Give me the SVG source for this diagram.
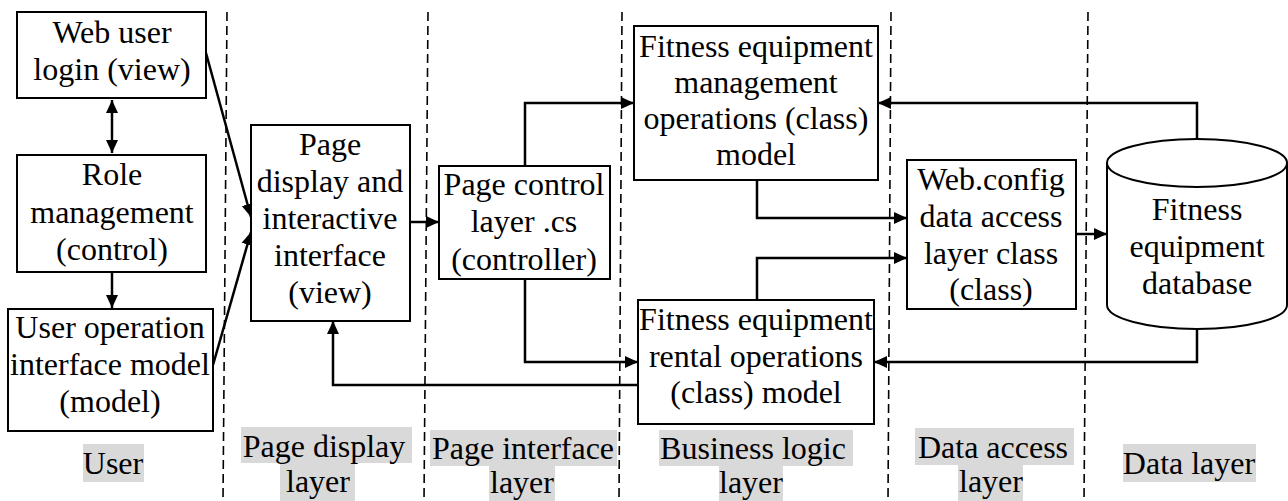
<svg xmlns="http://www.w3.org/2000/svg" width="1288" height="501" viewBox="0 0 1288 501">
<style>
.box{fill:#fff;stroke:#000;stroke-width:2}
.t{font-family:'Liberation Serif','Times New Roman',serif;font-size:32px;fill:#000;text-anchor:middle}
.c{fill:none;stroke:#000;stroke-width:2.5}
.d{fill:none;stroke:#000;stroke-width:1.6;stroke-dasharray:9,5}
.bg{fill:#d9d9d9}
</style>
<defs>
<marker id="ah" markerWidth="14" markerHeight="14" refX="13" refY="7" orient="auto-start-reverse" markerUnits="userSpaceOnUse">
<path d="M0,1 L13,7 L0,13 Z" fill="#000"/>
</marker>
</defs>
<rect width="1288" height="501" fill="#fff"/>
<g id="dividers">
<line class="d" x1="227" y1="12" x2="223" y2="501"/>
<line class="d" x1="428" y1="12" x2="424" y2="501"/>
<line class="d" x1="622" y1="12" x2="619" y2="501"/>
<line class="d" x1="891" y1="12" x2="888" y2="501"/>
<line class="d" x1="1088" y1="12" x2="1084" y2="501"/>
</g>
<g id="layer-labels">
<rect class="bg" x="83" y="444" width="61" height="38"/>
<text class="t" x="113" y="474">User</text>
<rect class="bg" x="241" y="427" width="171" height="36"/>
<rect class="bg" x="280" y="463" width="75" height="38"/>
<text class="t" x="324" y="457">Page display</text>
<text class="t" x="318" y="492">layer</text>
<rect class="bg" x="430" y="430" width="187" height="36"/>
<rect class="bg" x="489" y="466" width="66" height="35"/>
<text class="t" x="523" y="459">Page interface</text>
<text class="t" x="522" y="493">layer</text>
<rect class="bg" x="659" y="430" width="194" height="36"/>
<rect class="bg" x="719" y="466" width="64" height="35"/>
<text class="t" x="753" y="459">Business logic</text>
<text class="t" x="751" y="493">layer</text>
<rect class="bg" x="915" y="428" width="159" height="37"/>
<rect class="bg" x="958" y="465" width="65" height="36"/>
<text class="t" x="993" y="458">Data access</text>
<text class="t" x="991" y="492">layer</text>
<rect class="bg" x="1123" y="444" width="133" height="38"/>
<text class="t" x="1189" y="474">Data layer</text>
</g>
<g id="connectors">
<line class="c" x1="112" y1="100" x2="112" y2="153" marker-start="url(#ah)" marker-end="url(#ah)"/>
<line class="c" x1="112" y1="272" x2="112" y2="308" marker-end="url(#ah)"/>
<line class="c" x1="206" y1="53" x2="251" y2="217" marker-end="url(#ah)"/>
<line class="c" x1="213" y1="365" x2="251" y2="232" marker-end="url(#ah)"/>
<line class="c" x1="410" y1="222" x2="439" y2="222" marker-end="url(#ah)"/>
<polyline class="c" points="525,166 525,103 634,103" marker-end="url(#ah)"/>
<polyline class="c" points="525,279 525,362 638,362" marker-end="url(#ah)"/>
<polyline class="c" points="638,385 333,385 333,321" marker-end="url(#ah)"/>
<polyline class="c" points="757,180 757,218 907,218" marker-end="url(#ah)"/>
<polyline class="c" points="757,300 757,258 907,258" marker-end="url(#ah)"/>
<line class="c" x1="1076" y1="234" x2="1107" y2="234" marker-end="url(#ah)"/>
<polyline class="c" points="1197,139 1197,103 878,103" marker-end="url(#ah)"/>
<polyline class="c" points="1197,329 1197,362 874,362" marker-end="url(#ah)"/>
</g>
<g id="web-login">
<rect class="box" x="17" y="12" width="189" height="86"/>
<text class="t" x="112" y="43">Web user</text>
<text class="t" x="112" y="80">login (view)</text>
</g>
<g id="role-management">
<rect class="box" x="17" y="155" width="189" height="117"/>
<text class="t" x="112" y="185">Role</text>
<text class="t" x="112" y="223">management</text>
<text class="t" x="112" y="260">(control)</text>
</g>
<g id="user-operation">
<rect class="box" x="8" y="309" width="205" height="122"/>
<text class="t" x="110" y="338">User operation</text>
<text class="t" x="110" y="375">interface model</text>
<text class="t" x="110" y="412">(model)</text>
</g>
<g id="page-display">
<rect class="box" x="251" y="125" width="159" height="196"/>
<text class="t" x="330" y="155">Page</text>
<text class="t" x="330" y="192">display and</text>
<text class="t" x="330" y="229">interactive</text>
<text class="t" x="330" y="266">interface</text>
<text class="t" x="330" y="303">(view)</text>
</g>
<g id="page-control">
<rect class="box" x="439" y="166" width="171" height="113"/>
<text class="t" x="524" y="195">Page control</text>
<text class="t" x="524" y="232">layer .cs</text>
<text class="t" x="524" y="270">(controller)</text>
</g>
<g id="fitness-management">
<rect class="box" x="634" y="26" width="244" height="154"/>
<text class="t" x="756" y="57">Fitness equipment</text>
<text class="t" x="756" y="93">management</text>
<text class="t" x="756" y="129">operations (class)</text>
<text class="t" x="756" y="165">model</text>
</g>
<g id="fitness-rental">
<rect class="box" x="638" y="300" width="236" height="124"/>
<text class="t" x="756" y="330">Fitness equipment</text>
<text class="t" x="756" y="367">rental operations</text>
<text class="t" x="756" y="403">(class) model</text>
</g>
<g id="data-access">
<rect class="box" x="907" y="160" width="169" height="149"/>
<text class="t" x="991" y="190">Web.config</text>
<text class="t" x="991" y="227">data access</text>
<text class="t" x="991" y="264">layer class</text>
<text class="t" x="991" y="300">(class)</text>
</g>
<g id="database">
<path class="box" d="M1107,163 L1107,305 A90,24 0 0 0 1287,305 L1287,163 A90,24 0 0 0 1107,163 Z"/>
<path class="box" d="M1107,163 A90,24 0 0 0 1287,163" fill="none"/>
<text class="t" x="1197" y="220">Fitness</text>
<text class="t" x="1197" y="257">equipment</text>
<text class="t" x="1197" y="294">database</text>
</g>
</svg>
